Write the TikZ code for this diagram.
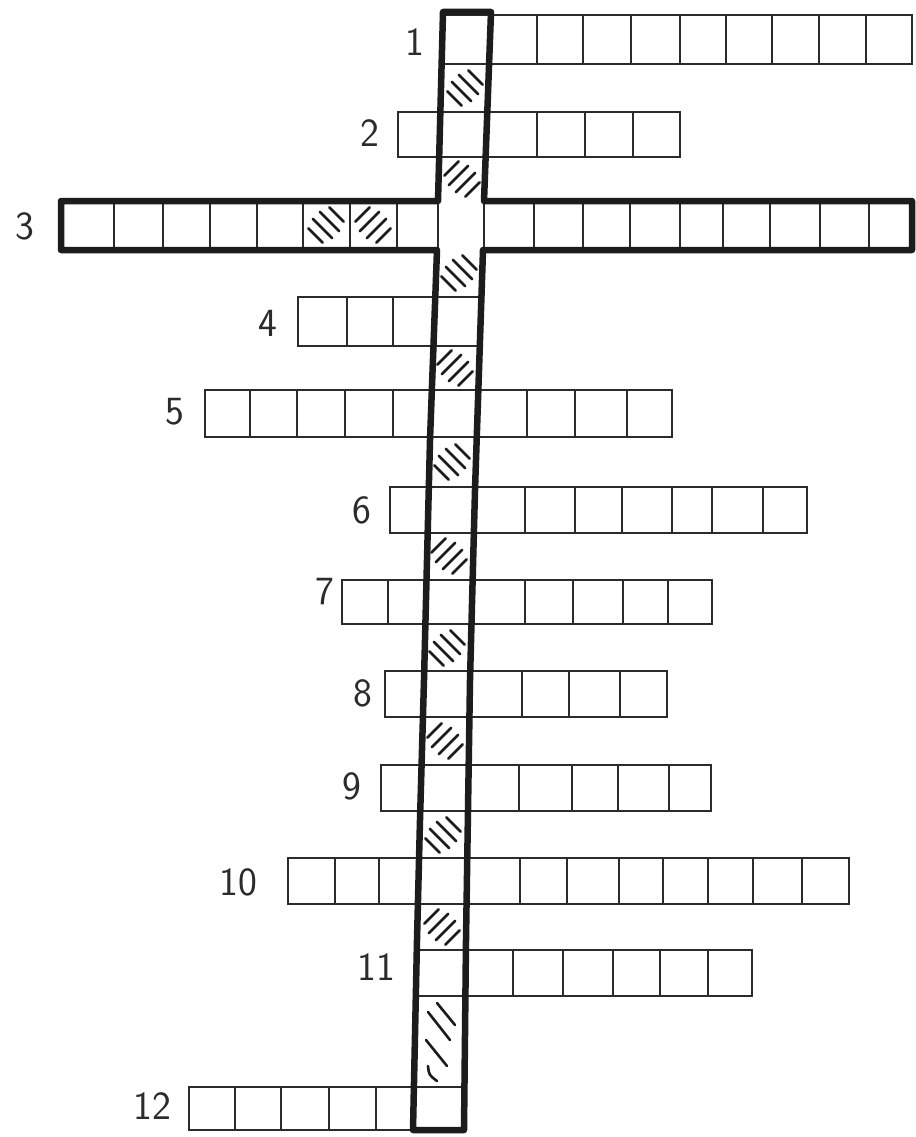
\documentclass[tikz,border=0pt]{standalone}
\usepackage{tikz}
\usetikzlibrary{calc}
\usepackage{xcolor}
\definecolor{ink}{HTML}{2b2b2b}
\definecolor{heavyink}{HTML}{1c1c1c}

\begin{document}
\begin{tikzpicture}[x=1pt,y=-1pt,
  gridline/.style={ink, line width=1.8pt},
  frameline/.style={heavyink, line width=6.5pt, line join=round},
  hatchline/.style={heavyink, line width=2.6pt, line cap=round},
  numlabel/.style={ink, inner sep=0pt, font=\sffamily\fontsize{40}{40}\selectfont}]
  \useasboundingbox[fill=white] (0,0) rectangle (915,1137);
  % rows: top / bottom / left / right / inner dividers
  \foreach \yt/\yb/\xl/\xr/\divs in {
      15/64/443/912/{537,583,631,680,726,772,819,866},
      112/157/398/680/{537,585,633},
      297/346/298/480/{347,393},
      390/437/205/672/{250,297,345,393,527,575,627},
      487/533/390/807/{525,575,622,672,712,763},
      580/624/342/712/{388,525,573,623,668},
      671/717/385/667/{522,569,620},
      765/811/381/711/{519,572,618,669},
      858/904/288/849/{335,379,520,567,619,663,708,753,802},
      950/996/416/752/{513,563,613,660,708},
      1087/1130/189/464/{235,281,329,376}} {
    \draw[gridline] (\xl,\yt) rectangle (\xr,\yb);
    \foreach \xx in \divs
      \draw[gridline] (\xx,\yt) -- (\xx,\yb);
  }
  % row 3, cells inside the heavy frame
  \foreach \xx in {114,163,210,257,303,350,397,438,484,534,583,630,680,723,770,820,869}
    \draw[gridline] (\xx,201) -- (\xx,250);
  % heavy frame: solution column and row 3
  \draw[frameline] (443,12) -- (491,12) -- (484,201) -- (912,201) -- (912,250)
    -- (483,250) -- (475,490) -- (470,680) -- (466,940) -- (464,1130)
    -- (413,1130) -- (417,940) -- (420,820) -- (424,680) -- (430,440)
    -- (437,250) -- (61,250) -- (61,201) -- (438,201) -- cycle;
  % hatched cells (1 = falling strokes, -1 = rising strokes)
  \foreach \cx/\cy/\d in {465/88/1, 462/179/-1, 459/273/1, 455/368/-1,
      452/462/1, 449/556/-1, 447/648/1, 445/741/-1, 443/835/1, 442/927/-1,
      326/225/1, 373/225/-1}
    \foreach \k in {-1.5,-0.5,0.5,1.5} {
      \pgfmathsetmacro{\h}{11-2.5*abs(\k)}
      \draw[hatchline] ($(\cx,\cy)+(\k*7,-\d*\k*7)$) ++(-\h,-\h*\d) -- ++(2*\h,2*\h*\d);
    }
  % tall hatched cell above row 12
  \draw[hatchline] (437,1003) -- (455,1025);
  \draw[hatchline] (428,1012) -- (450,1040);
  \draw[hatchline] (426,1040) -- (447,1066);
  \draw[hatchline] (428,1066) .. controls (429,1075) .. (437,1081);
  % clue numbers
  \foreach \n/\x/\y in {1/415/42, 2/370/133, 3/25/226, 4/268/323, 5/175/412,
      6/362/510, 7/325/592, 8/363/693, 9/352/786, 10/238/882, 11/376/967, 12/152/1106}
    \node[numlabel] (lab\n) at (\x,\y) {\n};
\end{tikzpicture}
\end{document}
